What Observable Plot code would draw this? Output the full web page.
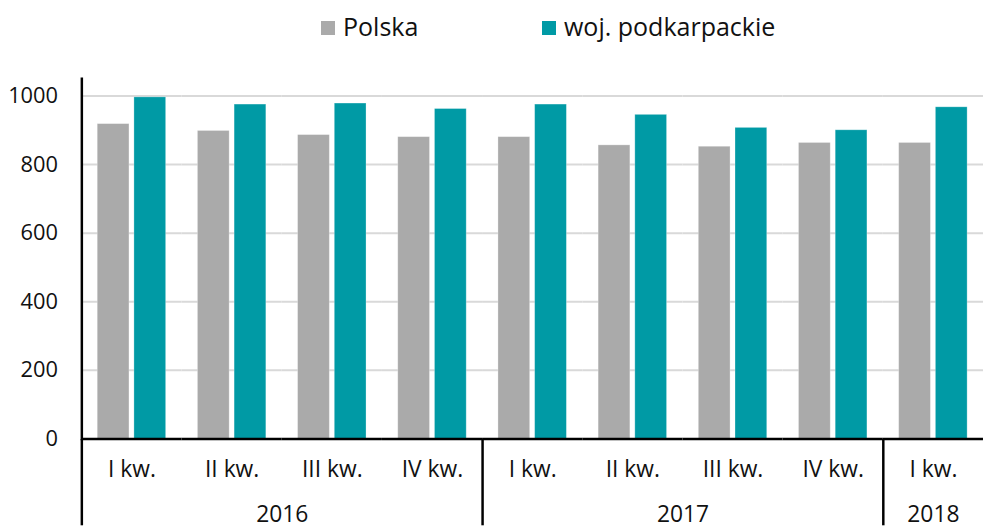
<!DOCTYPE html>
<html>
<head>
<meta charset="utf-8">
<script src="https://cdn.jsdelivr.net/npm/d3@7"></script>
<script src="https://cdn.jsdelivr.net/npm/@observablehq/plot@0.6"></script>
<style>
  html, body { margin: 0; padding: 0; background: #fff; }
  body { width: 983px; height: 529px; overflow: hidden; font-family: "Open Sans", sans-serif; color: #111; }
  #legend { position: relative; height: 60px; width: 983px; }
  .item { position: absolute; top: 10px; display: flex; align-items: center; font-size: 25px; line-height: 32px; white-space: nowrap; }
  .sw { width: 14px; height: 14px; margin-right: 8px; position: relative; top: 2px; }
  #chart svg, #table svg { display: block; overflow: visible; }
  svg text { font-family: "Open Sans", sans-serif; }
</style>
</head>
<body>
<div id="legend"></div>
<div id="chart"></div>
<div id="table"></div>
<script>
// ---- data ----
const series = ["Polska", "woj. podkarpackie"];
const colors = ["#aaaaaa", "#009aa5"];
const quarters = ["I kw.", "II kw.", "III kw.", "IV kw.", "I kw.", "II kw.", "III kw.", "IV kw.", "I kw."];
const years = ["2016", "2016", "2016", "2016", "2017", "2017", "2017", "2017", "2018"];
const polska = [918, 898, 886, 880, 880, 856, 852, 863, 863];
const podkarpackie = [996, 975, 978, 962, 975, 945, 907, 900, 967];
const yTicks = [0, 200, 400, 600, 800, 1000];

// ---- derived tables ----
const keys = quarters.map((q, i) => years[i] + " " + q);
const rows = [];
keys.forEach((k, i) => {
  rows.push({period: k, series: series[0], value: polska[i]});
  rows.push({period: k, series: series[1], value: podkarpackie[i]});
});
const yearGroups = [];
years.forEach((y, i) => {
  const last = yearGroups[yearGroups.length - 1];
  if (last && last.year === y) last.count++;
  else yearGroups.push({year: y, start: i, count: 1});
});

// ---- legend ----
const legendLeft = [321, 542];
const legend = document.getElementById("legend");
series.forEach((s, i) => {
  const it = document.createElement("div");
  it.className = "item";
  it.style.left = legendLeft[i] + "px";
  const sw = document.createElement("span");
  sw.className = "sw";
  sw.style.background = colors[i];
  const tx = document.createElement("span");
  tx.textContent = s;
  it.appendChild(sw); it.appendChild(tx);
  legend.appendChild(it);
});

const W = 991, ML = 82;
const FONT = '"Open Sans", sans-serif';

// ---- main chart ----
const chart = Plot.plot({
  width: W, height: 382,
  marginTop: 18.5, marginBottom: 0.5, marginLeft: ML, marginRight: 0,
  style: {fontFamily: FONT, fontSize: "22px", color: "#111", background: "transparent", overflow: "visible"},
  fx: {domain: keys, paddingInner: 0, paddingOuter: 0, axis: null, label: null},
  x: {domain: series, paddingInner: 0.127, paddingOuter: 0.428, axis: null},
  y: {domain: [0, 1050], ticks: yTicks, tickSize: 0, tickPadding: 24, label: null, tickFormat: d => String(d)},
  color: {domain: series, range: colors},
  marks: [
    Plot.ruleY(yTicks.filter(d => d > 0), {stroke: "#d9d9d9", strokeWidth: 2}),
    Plot.barY(rows, {fx: "period", x: "series", y: "value", fill: "series", stroke: "#ffffff", strokeOpacity: 0.35, strokeWidth: 0.8}),
    Plot.ruleY([0], {stroke: "#000", strokeWidth: 2.5}),
    Plot.frame({anchor: "left", facet: "super", stroke: "#000", strokeWidth: 2.5})
  ]
});
document.getElementById("chart").appendChild(chart);

// ---- category table below the axis ----
const table = Plot.plot({
  width: W, height: 87,
  marginTop: 0, marginBottom: 0, marginLeft: ML, marginRight: 0,
  style: {fontFamily: FONT, fontSize: "23px", color: "#111", background: "transparent", overflow: "visible"},
  x: {domain: [0, keys.length], axis: null},
  y: {axis: null},
  marks: [
    Plot.ruleX(yearGroups, {x: "start", stroke: "#000", strokeWidth: 2.5}),
    Plot.text(quarters, {x: (d, i) => i + 0.5, text: d => d, frameAnchor: "top", lineAnchor: "middle", dy: 30, fill: "#111", fontFamily: FONT, fontSize: 23}),
    Plot.text(yearGroups, {x: d => d.start + d.count / 2, text: "year", frameAnchor: "bottom", lineAnchor: "middle", dy: -11, fill: "#111", fontFamily: FONT, fontSize: 23})
  ]
});
document.getElementById("table").appendChild(table);
</script>
</body>
</html>
